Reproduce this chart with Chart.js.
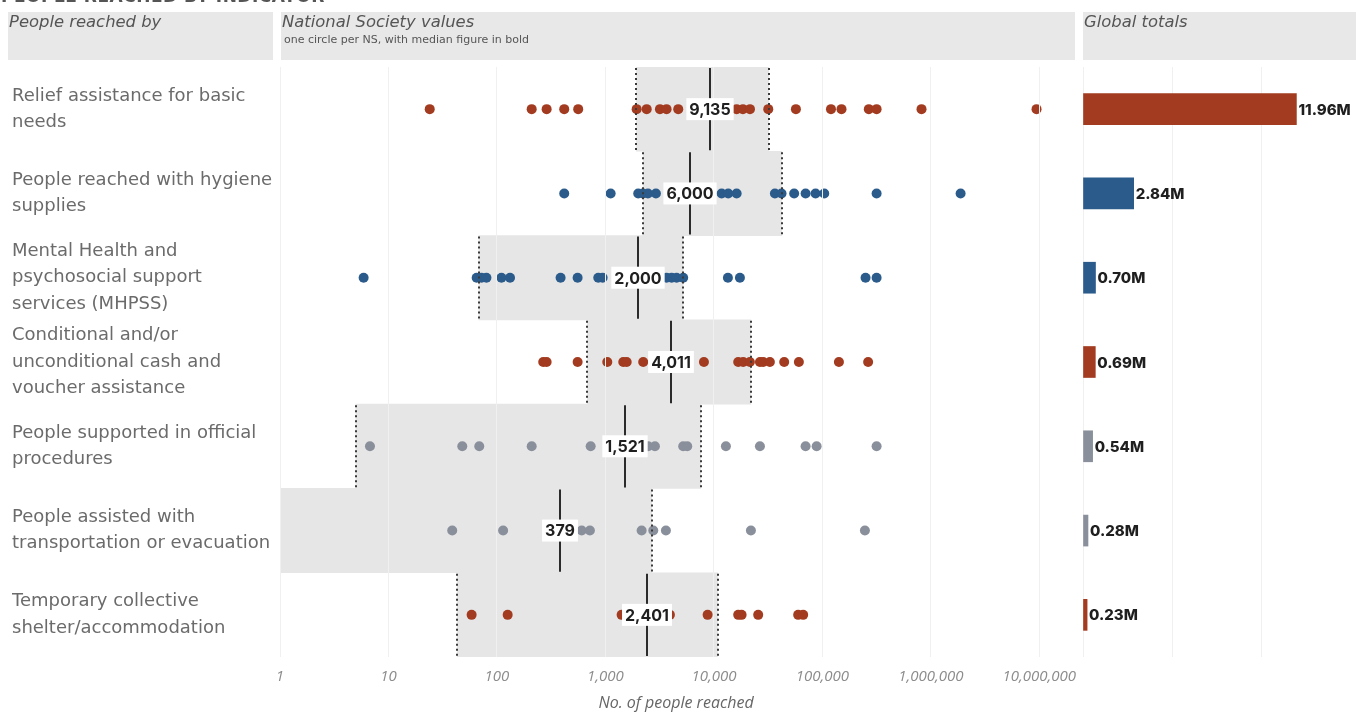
<!DOCTYPE html>
<html>
<head>
<meta charset="utf-8">
<title>People reached by indicator</title>
<script src="https://cdn.jsdelivr.net/npm/chart.js@4.4.0/dist/chart.umd.min.js"></script>
<style>
  body { margin: 0; background: #fff; font-family: 'DejaVu Sans', sans-serif; }
  #page { position: relative; width: 1356px; height: 713px; overflow: hidden; }
  .title { position: absolute; left: 1px; top: -14px; font: 700 17px 'DejaVu Sans', sans-serif; letter-spacing: 0.5px; color: #555; white-space: nowrap; }
  .head { position: absolute; top: 12px; height: 48px; background: #e8e8e8; }
  .head .h { font-style: italic; font-size: 16.4px; color: #555; padding: 0 0 0 1px; line-height: 20px; }
  .head .sub { font-size: 11px; color: #555; padding: 2px 0 0 3px; line-height: 12px; }
  .box { position: absolute; top: 0; }
</style>
</head>
<body>
<div id="page">
  <div class="box" style="left:0;width:1080px;height:713px"><canvas id="dots" width="1080" height="713"></canvas></div>
  <div class="box" style="left:1083px;width:273px;height:713px"><canvas id="totals" width="273" height="713"></canvas></div>

  <div class="title">PEOPLE REACHED BY INDICATOR</div>
  <div class="head" style="left:8px;width:265px"><div class="h">People reached by</div></div>
  <div class="head" style="left:281px;width:794px">
    <div class="h">National Society values</div>
    <div class="sub">one circle per NS, with median figure in bold</div>
  </div>
  <div class="head" style="left:1083px;width:273px"><div class="h">Global totals</div></div>
</div>

<script>
// indicator names, already wrapped into lines
const indicators = [
  ['Relief assistance for basic', 'needs'],
  ['People reached with hygiene', 'supplies'],
  ['Mental Health and', 'psychosocial support', 'services (MHPSS)'],
  ['Conditional and/or', 'unconditional cash and', 'voucher assistance'],
  ['People supported in official', 'procedures'],
  ['People assisted with', 'transportation or evacuation'],
  ['Temporary collective', 'shelter/accommodation']
];

// one value per National Society
const reliefValues = [24, 209, 287, 417, 561, 1940, 2400, 3180, 3660, 4690, 9135, 16200, 18500, 21500, 31700,
  57000, 120000, 150000, 268000, 316000, 820000, 9420000];
const hygieneValues = [417, 1117, 2005, 2216, 2466, 2920, 6000, 11780, 13550, 16200, 36500, 42000, 54900,
  70000, 86500, 104000, 316000, 1880000];
const mhpssValues = [5.9, 65, 72, 80, 110, 132, 386, 554, 859, 942, 2000, 3660, 4075, 4530, 5210, 13460,
  17370, 250000, 316000];
const cashValues = [267, 287, 554, 1040, 1460, 1570, 2230, 4011, 8090, 16750, 18620, 21460, 26560, 28460,
  32800, 44460, 60700, 142000, 264000];
const proceduresValues = [6.75, 47.9, 68.7, 209, 731, 1521, 2478, 2860, 5210, 5680, 12900, 26560, 70000,
  88500, 316000];
const transportValues = [38.7, 114, 379, 604, 719, 2156, 2760, 3610, 21930, 246500];
const shelterValues = [58.4, 125.5, 1410, 2401, 3930, 8750, 16750, 18000, 25600, 59800, 66500];

const medians = [9135, 6000, 2000, 4011, 1521, 379, 2401];
const lowerQuartiles = [1930, 2233, 68, 680, 5, 0.5, 43];
const upperQuartiles = [32000, 42000, 5200, 21900, 7540, 2670, 10800];

// global totals, millions of people
const globalTotals = [11.96, 2.84, 0.70, 0.69, 0.54, 0.28, 0.23];

const tickValues = [1, 10, 100, 1000, 10000, 100000, 1000000, 10000000];

const RED = '#a23b1f', BLUE = '#2b5b8b', GREY = '#8a909b';
const rowColors = [RED, BLUE, BLUE, RED, GREY, GREY, RED];
const rowValues = [reliefValues, hygieneValues, mhpssValues, cashValues, proceduresValues, transportValues, shelterValues];

// y is the category index, so the points skip parsing
const dotSets = rowValues.map((vals, i) => ({
  type: 'scatter',
  parsing: false,
  data: vals.map(v => ({ x: v, y: i })),
  backgroundColor: rowColors[i],
  borderColor: rowColors[i],
  borderWidth: 0,
  pointRadius: 5,
  pointHoverRadius: 5,
  order: 1
}));

// interquartile box behind the dots
const boxSet = {
  type: 'bar',
  data: lowerQuartiles.map((q, i) => [q, upperQuartiles[i]]),
  backgroundColor: '#e6e6e6',
  barPercentage: 1,
  categoryPercentage: 1,
  order: 10
};

// dotted quartile lines, median line and its label
const medianMarks = {
  id: 'medianMarks',
  afterDraw(chart) {
    const { ctx, scales: { x, y } } = chart;
    const band = y.getPixelForValue(1) - y.getPixelForValue(0);
    ctx.save();
    medians.forEach((m, i) => {
      const yc = y.getPixelForValue(i);
      const top = yc - band / 2, bottom = yc + band / 2;
      ctx.lineWidth = 2;
      ctx.strokeStyle = '#3a3a3a';
      ctx.setLineDash([2, 3]);
      [lowerQuartiles[i], upperQuartiles[i]].forEach(q => {
        if (q < x.min) return;
        const px = Math.round(x.getPixelForValue(q));
        ctx.beginPath();
        ctx.moveTo(px, top + 1);
        ctx.lineTo(px, bottom - 1);
        ctx.stroke();
      });
      ctx.setLineDash([]);
      const xm = Math.round(x.getPixelForValue(m));
      ctx.strokeStyle = '#2b2b2b';
      ctx.beginPath();
      ctx.moveTo(xm, top + 1);
      ctx.lineTo(xm, bottom - 1);
      ctx.stroke();

      const text = m.toLocaleString('en-US');
      ctx.font = '700 16px Inter, sans-serif';
      const w = ctx.measureText(text).width + 6;
      ctx.fillStyle = '#ffffff';
      ctx.fillRect(xm - w / 2, yc - 11, w, 22);
      ctx.fillStyle = '#1f1f1f';
      ctx.textAlign = 'center';
      ctx.textBaseline = 'middle';
      ctx.fillText(text, xm, yc + 1);
    });
    ctx.restore();
  }
};

new Chart(document.getElementById('dots'), {
  type: 'bar',
  data: {
    labels: indicators,
    datasets: [boxSet, ...dotSets]
  },
  options: {
    indexAxis: 'y',
    responsive: false,
    animation: false,
    events: [],
    layout: { padding: { left: 12, top: 67, right: 8, bottom: 0 } },
    plugins: { legend: { display: false }, tooltip: { enabled: false } },
    scales: {
      x: {
        type: 'logarithmic',
        min: 1,
        max: 2e7,
        border: { display: false },
        grid: { color: '#f0f0f0', drawTicks: false, z: 1 },
        afterBuildTicks(scale) { scale.ticks = tickValues.map(v => ({ value: v })); },
        afterFit(scale) {
          scale.height = 56;
          // the end labels fit in the margin, keep the full width for the plot
          scale.paddingLeft = 0;
          scale.paddingRight = 0;
        },
        ticks: {
          padding: 11,
          color: '#8c8c8c',
          font: { family: 'Open Sans', size: 15, style: 'italic' },
          callback: v => Number(v).toLocaleString('en-US')
        },
        title: {
          display: true,
          text: 'No. of people reached',
          color: '#666',
          font: { family: 'Open Sans', size: 16, style: 'italic' },
          padding: { top: 2, bottom: 0 }
        }
      },
      y: {
        type: 'category',
        offset: true,
        border: { display: false },
        grid: { display: false, drawTicks: false },
        afterFit(scale) { scale.width = 268; },
        ticks: {
          crossAlign: 'far',
          color: '#6b6b6b',
          font: { family: 'DejaVu Sans', size: 18, lineHeight: 1.47 }
        }
      }
    }
  },
  plugins: [medianMarks]
});

// value labels at the end of each total bar
const totalLabels = {
  id: 'totalLabels',
  afterDatasetsDraw(chart) {
    const { ctx } = chart;
    ctx.save();
    ctx.font = '800 15px Inter, sans-serif';
    ctx.fillStyle = '#1f1f1f';
    ctx.textBaseline = 'middle';
    chart.getDatasetMeta(0).data.forEach((bar, i) => {
      ctx.fillText(globalTotals[i].toFixed(2) + 'M', bar.x + 2, bar.y + 1);
    });
    ctx.restore();
  }
};

new Chart(document.getElementById('totals'), {
  type: 'bar',
  data: {
    labels: indicators,
    datasets: [{
      data: globalTotals,
      backgroundColor: rowColors,
      barThickness: 31
    }]
  },
  options: {
    indexAxis: 'y',
    responsive: false,
    animation: false,
    events: [],
    layout: { padding: { top: 67, bottom: 56, left: 0, right: 0 } },
    plugins: { legend: { display: false }, tooltip: { enabled: false } },
    scales: {
      x: {
        min: 0,
        max: 15.3,
        border: { display: false },
        grid: { color: '#f0f0f0', drawTicks: false },
        ticks: { display: false, stepSize: 5 }
      },
      y: { display: false }
    }
  },
  plugins: [totalLabels]
});
</script>
</body>
</html>
